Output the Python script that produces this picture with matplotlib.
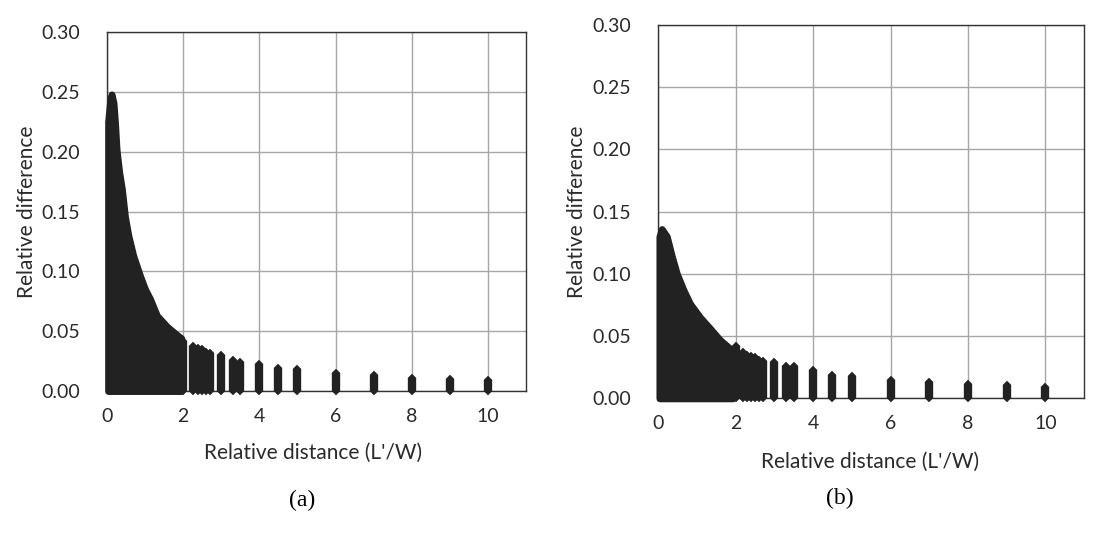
import numpy as np
import matplotlib
matplotlib.use("Agg")
import matplotlib.pyplot as plt

plt.rcParams['font.family'] = ['Lato', 'DejaVu Sans']

# panel (a): dense upper envelope near the origin, then separate columns
a_env_x = [0.03, 0.08, 0.12, 0.17, 0.21, 0.25, 0.32, 0.39, 0.47, 0.56, 0.69,
           0.87, 1.00, 1.13, 1.31, 1.57, 1.83, 1.95]
a_env_y = [0.225, 0.242, 0.248, 0.241, 0.224, 0.202, 0.183, 0.169, 0.146, 0.130,
           0.113, 0.096, 0.085, 0.077, 0.063, 0.054, 0.047, 0.044]
a_col_x = [2.0, 2.25, 2.4, 2.5, 2.6, 2.7, 3.0, 3.3, 3.5, 4.0, 4.5, 5.0, 6.0, 7.0, 8.0, 9.0, 10.0]
a_col_y = [0.042, 0.038, 0.036, 0.035, 0.033, 0.032, 0.030, 0.026, 0.024, 0.023,
           0.0196, 0.018, 0.015, 0.013, 0.011, 0.0098, 0.009]

# panel (b)
b_env_x = [0.03, 0.09, 0.22, 0.35, 0.48, 0.65, 0.82, 1.08, 1.34, 1.59, 1.85, 1.92]
b_env_y = [0.130, 0.136, 0.130, 0.114, 0.100, 0.087, 0.076, 0.065, 0.056, 0.047,
           0.040, 0.039]
b_col_x = [2.0, 2.2, 2.3, 2.4, 2.5, 2.6, 2.7, 3.0, 3.3, 3.5, 4.0, 4.5, 5.0, 6.0, 7.0, 8.0, 9.0, 10.0]
b_col_y = [0.042, 0.037, 0.035, 0.034, 0.033, 0.031, 0.030, 0.029, 0.026, 0.026,
           0.0225, 0.019, 0.018, 0.015, 0.013, 0.0117, 0.0104, 0.009]

yticks = [0.00, 0.05, 0.10, 0.15, 0.20, 0.25, 0.30]
xticks = [0, 2, 4, 6, 8, 10]

dark = '#222222'

fig = plt.figure(figsize=(11.03, 5.33), dpi=100)
ax_a = fig.add_axes([0.0970, 0.2664, 0.3799, 0.6730])
ax_b = fig.add_axes([0.5968, 0.2527, 0.3860, 0.7004])


def draw(ax, env_x, env_y, col_x, col_y):
    ax.fill_between(env_x, 0, env_y, facecolor=dark, edgecolor=dark,
                    linewidth=5, joinstyle='round', clip_on=False, zorder=3)
    ax.vlines(col_x, 0, col_y, colors=dark, linewidth=6, zorder=3, clip_on=False)
    ax.plot(col_x, col_y, 'D', color=dark, markersize=4.3, mew=0.3,
            clip_on=False, zorder=3)
    ax.plot(col_x, np.zeros(len(col_x)), 'D', color=dark, markersize=4.3,
            mew=0.3, clip_on=False, zorder=3)
    ax.set_xlim(0, 11)
    ax.set_ylim(0, 0.30)
    ax.set_xticks(xticks)
    ax.set_yticks(yticks)
    ax.set_yticklabels(['%.2f' % v for v in yticks])
    ax.tick_params(length=0, labelsize=14, colors='#2a2a2a')
    ax.tick_params(axis='y', pad=19.5)
    ax.tick_params(axis='x', pad=12)
    ax.grid(True, color='#a6a6a6', linewidth=1)
    ax.set_axisbelow(True)
    for s in ax.spines.values():
        s.set_color('#333333')
        s.set_linewidth(1)
    ax.set_xlabel("Relative distance (L'/W)", fontsize=15, color='#2a2a2a')
    ax.set_ylabel('Relative difference', fontsize=15, color='#2a2a2a')


draw(ax_a, a_env_x, a_env_y, a_col_x, a_col_y)
draw(ax_b, b_env_x, b_env_y, b_col_x, b_col_y)

ax_a.xaxis.set_label_coords(0.492, -0.173)
ax_a.xaxis.label.set_va('center')
ax_a.yaxis.set_label_coords(-0.191, 0.5)
ax_a.yaxis.label.set_va('center')
ax_b.xaxis.set_label_coords(0.497, -0.170)
ax_b.xaxis.label.set_va('center')
ax_b.yaxis.set_label_coords(-0.192, 0.5)
ax_b.yaxis.label.set_va('center')

fig.text(301.7 / 1103, 1 - 500 / 533, '(a)', family='Liberation Serif',
         fontsize=17, ha='center', va='center')
fig.text(840 / 1103, 1 - 498 / 533, '(b)', family='Liberation Serif',
         fontsize=17, ha='center', va='center')

fig.savefig('out.png', dpi=100)
